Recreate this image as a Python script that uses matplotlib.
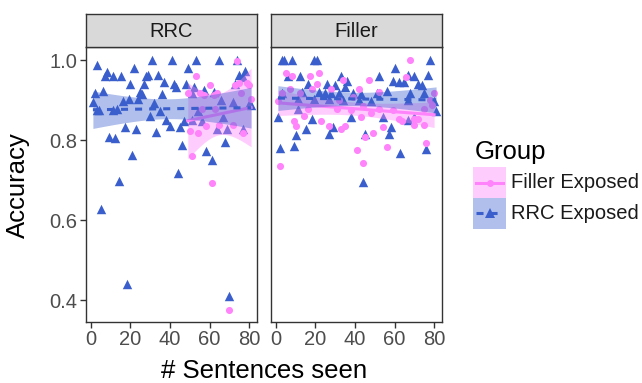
import numpy as np
import matplotlib.pyplot as plt
from matplotlib.patches import Rectangle
from matplotlib.lines import Line2D

plt.rcParams['font.family'] = ['Liberation Sans', 'DejaVu Sans']

W, H = 642, 383
BLUE = '#3A5FCD'
PINK = '#FF83FA'
BAND_ALPHA = 0.4

panels = ['RRC', 'Filler']
groups = ['Filler Exposed', 'RRC Exposed']

# RRC panel, RRC Exposed group
rrc_blue_x = [1, 2, 3, 3, 4, 5, 6, 7, 8, 9,
              11, 11, 12, 13, 14, 15, 16, 17, 18, 19,
              20, 21, 22, 23, 24, 25, 26, 27, 28, 29,
              30, 31, 32, 33, 34, 35, 36, 37, 38, 40,
              41, 42, 43, 44, 45, 46, 47, 48, 49, 51,
              51, 52, 53, 54, 56, 57, 58, 61, 62, 64,
              65, 66, 67, 68, 69, 70, 72, 73, 74, 75,
              77, 77, 78, 80, 81]
rrc_blue_y = [.896, .917, .988, .875, .875, .627, .922, .96, .971, .808,
              .961, .875, .806, .877, .698, .961, .898, .832, .439, .904,
              .94, .763, .98, .829, .904, .921, .915, .94, .96, .963,
              .86, 1.0, .893, .82, .963, .873, .915, .946, .85, .835,
              1.0, .94, .933, .719, .832, .789, .848, .94, .98, .917,
              .85, .933, 1.0, .873, .848, .925, .773, .75, .92, .829,
              1.0, .90, .858, .795, .829, .41, .896, .94, 1.0, .963,
              .958, .829, .973, .89, .887]

# RRC panel, Filler Exposed group
rrc_pink_x = [49, 50, 51, 53, 54, 55, 56, 57, 58, 60,
              61, 62, 63, 64, 65, 70, 72, 73, 74, 75,
              76, 77, 79, 80, 81]
rrc_pink_y = [.917, .823, .76, .96, .819, .919, .879, .913, .835, .939,
              .694, .913, .879, .918, .838, .375, .839, .938, .998, .942,
              .919, .819, .942, .938, .904]

# Filler panel, RRC Exposed group
fil_blue_x = [1, 2, 3, 3, 4, 6, 8, 9, 10, 11,
              11, 12, 13, 15, 16, 18, 19, 19, 21, 22,
              25, 26, 27, 27, 28, 29, 30, 32, 33, 34,
              35, 36, 38, 39, 42, 43, 44, 45, 48, 51,
              52, 54, 56, 57, 58, 59, 60, 62, 63, 65,
              67, 67, 67, 68, 70, 70, 72, 74, 75, 76,
              77, 78, 80, 81]
fil_blue_y = [.857, .78, 1.0, .918, 1.0, .96, 1.0, .785, .813, .878,
              .904, .96, .921, .829, .94, .854, 1.0, .904, 1.0, .921,
              .918, .94, .815, .904, .917, .832, .939, .919, .96, .90,
              .933, .948, .858, .917, .90, .915, .696, .815, .898, .917,
              .96, .857, .923, .815, .832, .948, .98, .946, .767, .946,
              .964, .90, .85, .917, .857, .96, .94, .938, .917, .777,
              .963, 1.0, .898, .873]

# Filler panel, Filler Exposed group
fil_pink_x = [1, 2, 3, 5, 7, 8, 9, 10, 12, 14,
              16, 17, 18, 21, 22, 23, 27, 28, 31, 32,
              33, 34, 35, 38, 39, 41, 42, 43, 44, 44,
              45, 47, 48, 49, 52, 52, 54, 56, 59, 62,
              64, 66, 68, 70, 70, 72, 75, 75, 76, 78,
              79, 80]
fil_pink_y = [.898, .735, .918, .969, .929, .96, .848, .836, .919, .861,
              .877, .96, .929, .94, .969, .848, .836, .929, .879, .90,
              .827, .95, .836, .875, .907, .775, .929, .857, .744, .885,
              .807, .95, .867, .819, .877, .921, .833, .782, .875, .854,
              .848, .957, 1.0, .853, .839, .854, .839, .879, .794, .90,
              .888, .919]

x_ticks = [0, 20, 40, 60, 80]
y_ticks = [0.4, 0.6, 0.8, 1.0]


def t975(df):
    # Cornish-Fisher approximation of the 97.5% t quantile
    z = 1.959964
    return (z + (z**3 + z) / (4 * df) + (5 * z**5 + 16 * z**3 + 3 * z) / (96 * df**2)
            + (3 * z**7 + 19 * z**5 + 17 * z**3 - 15 * z) / (384 * df**3))


def lm_band(x, y, n_pts=80):
    '''Linear fit with 95% confidence band, like geom_smooth(method="lm").'''
    x = np.asarray(x, float)
    y = np.asarray(y, float)
    n = len(x)
    b1, b0 = np.polyfit(x, y, 1)
    xs = np.linspace(x.min(), x.max(), n_pts)
    fit = b0 + b1 * xs
    s = np.sqrt(np.sum((y - (b0 + b1 * x))**2) / (n - 2))
    sxx = np.sum((x - x.mean())**2)
    se = s * np.sqrt(1.0 / n + (xs - x.mean())**2 / sxx)
    t = t975(n - 2)
    return xs, fit, fit - t * se, fit + t * se


def fx(px):
    return px / W


def fy(py):
    return 1 - py / H


fig = plt.figure(figsize=(W / 100, H / 100), dpi=100)

panel_left = [86, 271]
panel_w = 171
top, bottom = 47, 322
data = {
    'RRC': ((rrc_pink_x, rrc_pink_y), (rrc_blue_x, rrc_blue_y)),
    'Filler': ((fil_pink_x, fil_pink_y), (fil_blue_x, fil_blue_y)),
}

for i, name in enumerate(panels):
    ax = fig.add_axes([fx(panel_left[i]), fy(bottom), panel_w / W, (bottom - top) / H])
    (px_, py_), (bx_, by_) = data[name]
    ax.scatter(bx_, by_, marker='^', s=46, color=BLUE, linewidths=0, zorder=2)
    ax.scatter(px_, py_, marker='o', s=26, color=PINK, linewidths=0, zorder=2)

    xs, fit, lo, hi = lm_band(px_, py_)
    ax.fill_between(xs, lo, hi, color=PINK, alpha=BAND_ALPHA, linewidth=0, zorder=3)
    ax.plot(xs, fit, color=PINK, lw=2.2, zorder=3)
    xs, fit, lo, hi = lm_band(bx_, by_)
    ax.fill_between(xs, lo, hi, color=BLUE, alpha=BAND_ALPHA, linewidth=0, zorder=4)
    ax.plot(xs, fit, color=BLUE, lw=2.2, dashes=(2.3, 2.3), zorder=5)

    ax.set_xlim(-2.5, 84)
    ax.set_ylim(0.345, 1.033)
    ax.set_xticks(x_ticks)
    ax.set_yticks(y_ticks)
    ax.set_yticklabels([f'{v:.1f}' for v in y_ticks])
    for sp in ax.spines.values():
        sp.set_color('#333333')
        sp.set_linewidth(1)
    ax.tick_params(length=4, width=1, color='#333333', labelcolor='#4D4D4D',
                   labelsize=14.5, pad=2)
    if i > 0:
        ax.tick_params(axis='y', left=False, labelleft=False)

    strip = fig.add_axes([fx(panel_left[i]), fy(top), panel_w / W, 33 / H])
    strip.set_facecolor('#D9D9D9')
    strip.set_xticks([])
    strip.set_yticks([])
    for sp in strip.spines.values():
        sp.set_color('#333333')
        sp.set_linewidth(1)
    strip.text(0.5, 0.48, name, ha='center', va='center', fontsize=14.5,
               color='#1A1A1A', transform=strip.transAxes)

fig.text(fx(18), fy(185), 'Accuracy', rotation=90, ha='center', va='center', fontsize=18.5)
fig.text(fx(264), fy(371), '# Sentences seen', ha='center', va='center', fontsize=18.5)

# legend
fig.text(fx(475), fy(152), 'Group', ha='left', va='center', fontsize=18.5)
key_specs = [(PINK, 'o', '-', 167), (BLUE, '^', '--', 198)]
for (col, mk, ls, ky), label in zip(key_specs, groups):
    fig.add_artist(Rectangle((fx(473), fy(ky + 31)), 33 / W, 31 / H,
                             transform=fig.transFigure, facecolor=col,
                             alpha=BAND_ALPHA, edgecolor='none'))
    ln = Line2D([fx(476), fx(503)], [fy(ky + 15.5)] * 2, transform=fig.transFigure,
                color=col, lw=2.2)
    if ls == '--':
        ln.set_dashes((2.3, 2.3))
    fig.add_artist(ln)
    fig.add_artist(Line2D([fx(489.5)], [fy(ky + 15.5)], transform=fig.transFigure,
                          marker=mk, markersize=6.5 if mk == '^' else 5, color=col,
                          markeredgewidth=0, linestyle='none'))
    fig.text(fx(511), fy(ky + 15.5), label, ha='left', va='center', fontsize=14.5,
             color='#1A1A1A')

fig.savefig('out.png', dpi=100)
